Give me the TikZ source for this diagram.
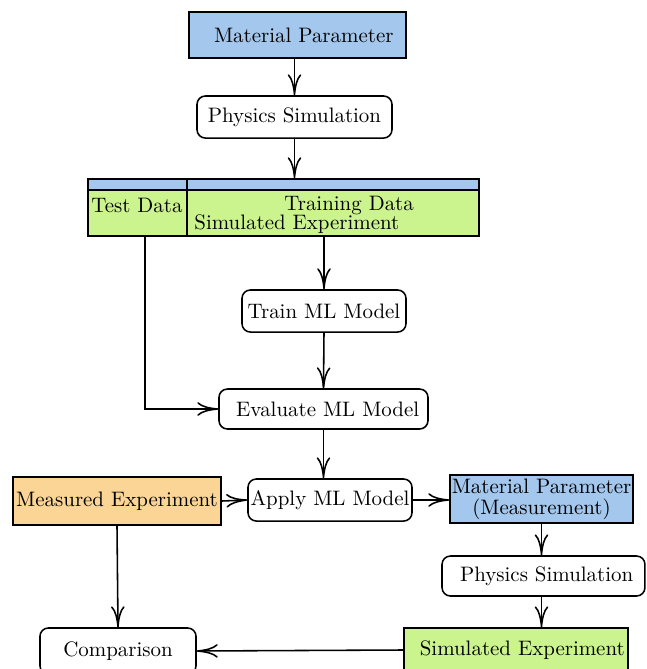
\documentclass[tikz,border=0pt]{standalone}
\usetikzlibrary{shapes, arrows.meta}
\definecolor{parblue}{RGB}{164,199,238}
\definecolor{simgreen}{RGB}{204,244,142}
\definecolor{measorange}{RGB}{250,213,150}
\tikzstyle{block} = [rectangle, draw, line width=0.75pt, inner sep=1pt, text centered]
\tikzstyle{step box} = [rectangle, draw, line width=0.75pt, rounded corners=4pt, inner sep=1pt, text centered, fill=white]
\tikzstyle{arr} = [line width=0.75pt, -{Computer Modern Rightarrow[length=10pt, width=6.5pt]}]

\begin{document}
\begin{tikzpicture}[x=0.478pt, y=-0.478pt]
		\useasboundingbox (0,0) rectangle (647,669);
		%Place node
		\node [block, fill=parblue, minimum width=103.7pt, minimum height=22pt] (matpar) at (297.5,35) {\hspace{6pt}Material Parameter};
		\node [step box, minimum width=93.2pt, minimum height=20.1pt] (physim) at (294.5,117) {Physics Simulation};
		
		%Data table
		\node [block, fill=parblue, minimum width=47.3pt, minimum height=5.3pt, inner sep=0pt] (stripL) at (137.5,184.5) {};
		\node [block, fill=parblue, minimum width=139.6pt, minimum height=5.3pt, inner sep=0pt] (stripR) at (333,184.5) {};
		\node [block, fill=simgreen, minimum width=47.3pt, minimum height=22pt, inner sep=0pt] (testcell) at (137.5,213) {};
		\node [block, fill=simgreen, minimum width=139.6pt, minimum height=22pt, inner sep=0pt] (traincell) at (333,213) {};
		\node [anchor=west, inner sep=0pt] (testtxt) at (91,205) {Test Data};
		\node [anchor=west, inner sep=0pt] (traintxt) at (284,205) {Training Data};
		\node [anchor=west, inner sep=0pt] (simtxt) at (194,224) {Simulated Experiment};
		
		\node [step box, minimum width=78.4pt, minimum height=20.1pt] (train) at (324,311) {Train ML Model};
		\node [step box, minimum width=99.9pt, minimum height=19.1pt] (evalml) at (323.5,409) {\hspace{4pt}Evaluate ML Model};
		\node [step box, minimum width=78.4pt, minimum height=20.1pt] (apply) at (330,500) {Apply ML Model};
		\node [block, fill=measorange, minimum width=99.4pt, minimum height=22.9pt] (measexp) at (117,501) {Measured Experiment};
		\node [block, fill=parblue, minimum width=87.5pt, minimum height=22.9pt, align=center, inner sep=0pt] (matmeas) at (541.5,499) {Material Parameter\\[-2pt](Measurement)};
		\node [step box, minimum width=97pt, minimum height=19.1pt] (physim2) at (543.5,576) {\hspace{3pt}Physics Simulation};
		\node [block, fill=simgreen, minimum width=107pt, minimum height=21pt] (simexp) at (516,650) {\hspace{6pt}Simulated Experiment};
		\node [step box, minimum width=74.6pt, minimum height=22pt] (compar) at (118,651) {Comparison};
		
		%Draw edges
		\draw [arr] (matpar.south -| physim.north) -- (physim.north);
		\draw [arr] (physim.south) -- (physim.south |- stripR.north);
		\draw [arr] (train.north |- traincell.south) -- (train.north);
		\draw [arr] (train.south) -- (evalml.north);
		\draw [arr] ([xshift=3.6pt]testcell.south) |- (evalml.west);
		\draw [arr] (evalml.south) -- (evalml.south |- apply.north);
		\draw [arr] (measexp.east) -- (apply.west);
		\draw [arr] (apply.east) -- (apply.east -| matmeas.west);
		\draw [arr] (matmeas.south) -- (matmeas.south |- physim2.north);
		\draw [arr] (matmeas.south |- physim2.south) -- (matmeas.south |- simexp.north);
		\draw [arr] (simexp.west) -- (compar.east);
		\draw [arr] (measexp.south) -- (compar.north);
		
	\end{tikzpicture}
\end{document}
